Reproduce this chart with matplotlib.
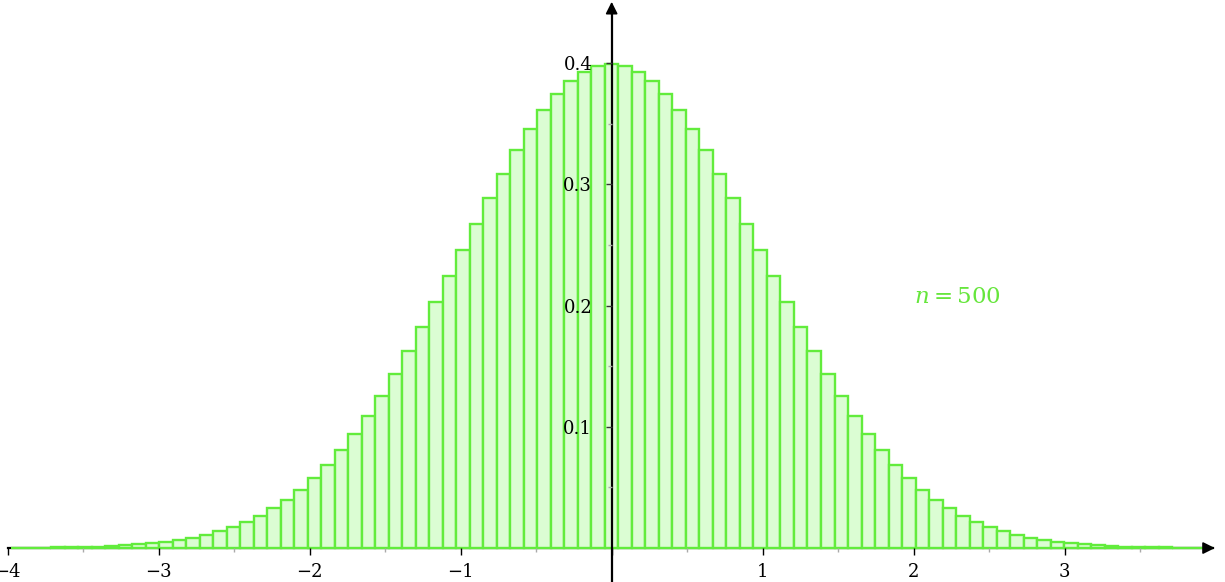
import numpy as np
import matplotlib
matplotlib.use("Agg")
import matplotlib.pyplot as plt

# Normalised binomial histogram, n = 500 trials, p = 1/2
n = 500
k_values = np.arange(206, 295)   # bar counts k shown between -4 and 4

# bar heights (density), left tail -> centre -> right tail
heights = [
    0.0002, 0.0002, 0.0003, 0.0005, 0.0007, 0.0009, 0.0012, 0.0017, 0.0022,
    0.0030, 0.0039, 0.0051, 0.0066, 0.0085, 0.0109, 0.0138, 0.0173, 0.0216,
    0.0267, 0.0327, 0.0398, 0.0481, 0.0576, 0.0684, 0.0806, 0.0941, 0.1091,
    0.1255, 0.1433, 0.1622, 0.1821, 0.2029, 0.2243, 0.2459, 0.2674, 0.2885,
    0.3088, 0.3279, 0.3455, 0.3610, 0.3742, 0.3848, 0.3926, 0.3973,
    0.3989,
    0.3973, 0.3926, 0.3848, 0.3742, 0.3610, 0.3455, 0.3279, 0.3088, 0.2885,
    0.2674, 0.2459, 0.2243, 0.2029, 0.1821, 0.1622, 0.1433, 0.1255, 0.1091,
    0.0941, 0.0806, 0.0684, 0.0576, 0.0481, 0.0398, 0.0327, 0.0267, 0.0216,
    0.0173, 0.0138, 0.0109, 0.0085, 0.0066, 0.0051, 0.0039, 0.0030, 0.0022,
    0.0017, 0.0012, 0.0009, 0.0007, 0.0005, 0.0003, 0.0002, 0.0002,
]

x_ticks = [-4, -3, -2, -1, 0, 1, 2, 3]
x_ticklabels = ["\u22124", "\u22123", "\u22122", "\u22121", "", "1", "2", "3"]
y_ticks = [0.1, 0.2, 0.3, 0.4]
y_ticklabels = ["0.1", "0.2", "0.3", "0.4"]

# standardise counts: z = (k - n p) / sqrt(n p q)
sd = np.sqrt(n * 0.25)
centers = (k_values - n * 0.5) / sd
width = 1 / sd

edge_green = "#62ec3c"
fill_green = "#dbfdd3"

plt.rcParams["font.family"] = "DejaVu Serif"
plt.rcParams["mathtext.fontset"] = "dejavuserif"

fig = plt.figure(figsize=(12.25, 5.82), dpi=100)
ax = fig.add_axes([0, 0, 1, 1])

ax.bar(centers, heights, width=width, color=fill_green, edgecolor=edge_green,
       linewidth=1.7, zorder=2)

ax.set_xlim(-4.051, 4.062)
ax.set_ylim(-0.028, 0.452)

# axes through the origin
ax.set_axisbelow(False)
ax.spines["top"].set_visible(False)
ax.spines["right"].set_visible(False)
ax.spines["left"].set_position(("data", 0))
ax.spines["bottom"].set_position(("data", 0))
ax.spines["left"].set_bounds(-0.028, 0.445)
ax.spines["bottom"].set_bounds(-4, 3.98)
ax.spines["bottom"].set_zorder(1)
for s in ("left", "bottom"):
    ax.spines[s].set_linewidth(1.6)

arrow = dict(arrowstyle="-|>", color="black", lw=1.2, mutation_scale=18,
             shrinkA=0, shrinkB=0)
ax.annotate("", xy=(3.995, 0), xytext=(3.93, 0), arrowprops=arrow, zorder=3)
ax.annotate("", xy=(0, 0.4505), xytext=(0, 0.44), arrowprops=arrow, zorder=3)

ax.set_xticks(x_ticks)
ax.set_xticklabels(x_ticklabels)
ax.set_yticks(y_ticks)
ax.set_yticklabels(y_ticklabels)
ax.set_xticks(np.arange(-3.5, 4, 1), minor=True)
ax.set_yticks(np.arange(0.05, 0.45, 0.1), minor=True)

ax.tick_params(axis="x", which="major", direction="out", length=5, width=1,
               pad=6, labelsize=13, color="black")
ax.tick_params(axis="y", which="major", direction="out", length=4, width=1,
               pad=10, labelsize=13, color="#333333")
ax.tick_params(which="minor", direction="out", length=3, width=1,
               color="#aaaaaa")

ax.text(2.29, 0.207, r"$n = 500$", color="#66e63c", fontsize=16.5,
        ha="center", va="center")

fig.savefig("out.png", dpi=100)
